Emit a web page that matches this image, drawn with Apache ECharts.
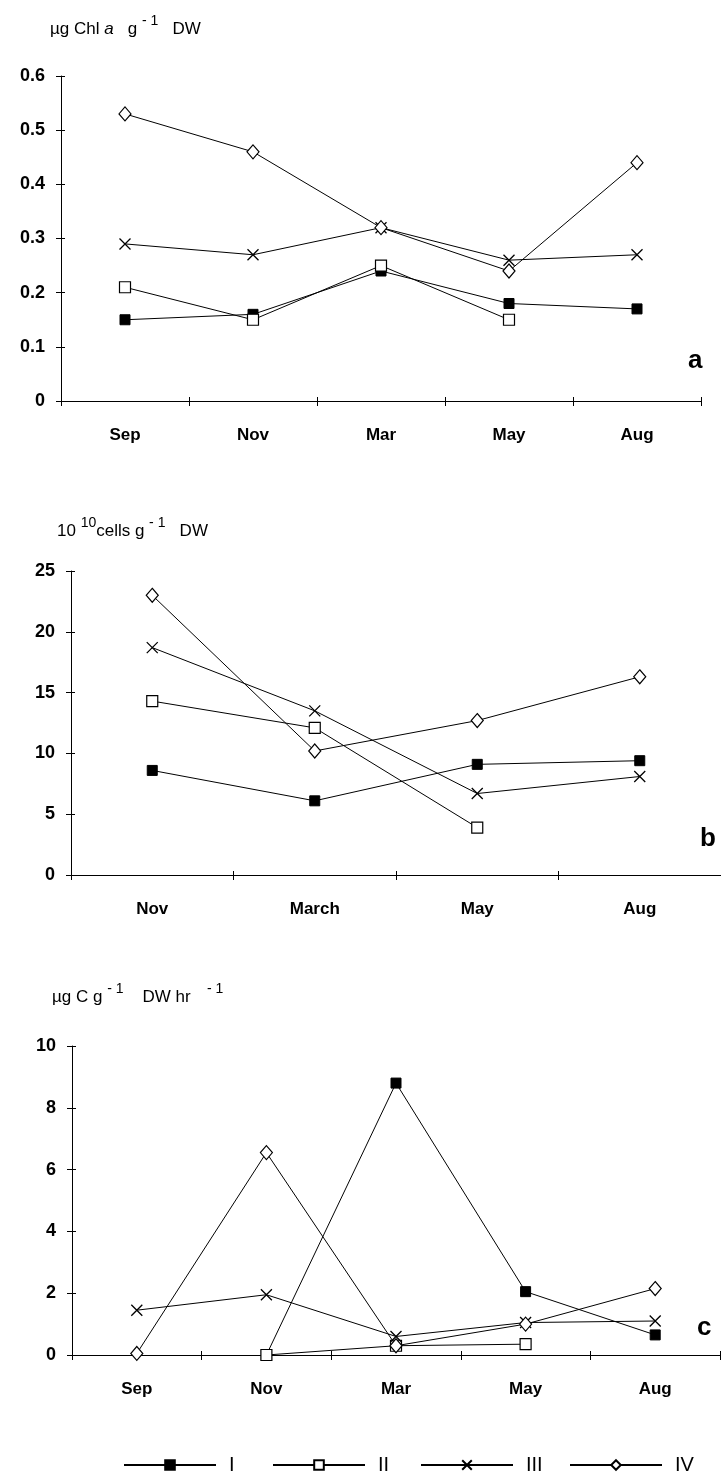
<!DOCTYPE html>
<html>
<head>
<meta charset="utf-8">
<script src="https://cdn.jsdelivr.net/npm/echarts@6/dist/echarts.min.js"></script>
<style>
html,body{margin:0;padding:0;background:#fff;}
#chart{width:721px;height:1477px;}
</style>
</head>
<body>
<div id="chart"></div>
<script>
// ---- data ----
const catsA = ['Sep', 'Nov', 'Mar', 'May', 'Aug'];
const catsB = ['Nov', 'March', 'May', 'Aug'];
const catsC = ['Sep', 'Nov', 'Mar', 'May', 'Aug'];
const seriesNames = ['I', 'II', 'III', 'IV'];

// panel a: µg Chl a g-1 DW
const aI   = [0.15, 0.16, 0.24, 0.18, 0.17];
const aII  = [0.21, 0.15, 0.25, 0.15, null];
const aIII = [0.29, 0.27, 0.32, 0.26, 0.27];
const aIV  = [0.53, 0.46, 0.32, 0.24, 0.44];

// panel b: 10^10 cells g-1 DW
const bI   = [8.6, 6.1, 9.1, 9.4];
const bII  = [14.3, 12.1, 3.9, null];
const bIII = [18.7, 13.5, 6.7, 8.1];
const bIV  = [23.0, 10.2, 12.7, 16.3];

// panel c: µg C g-1 DW hr-1
const cI   = [null, 0.0, 8.8, 2.05, 0.65];
const cII  = [null, 0.0, 0.3, 0.35, null];
const cIII = [1.45, 1.95, 0.6, 1.05, 1.1];
const cIV  = [0.05, 6.55, 0.3, 1.0, 2.15];

// y-axis scales
const yA = {min: 0, max: 0.6, interval: 0.1};
const yB = {min: 0, max: 25, interval: 5};
const yC = {min: 0, max: 10, interval: 2};

// ---- styles ----
const BLACK = '#000';
const FONT = "'Liberation Sans', Arial, sans-serif";
const CROSS = 'path://M0,0L10,10M10,0L0,10';

const styleOf = {
  'I':   {symbol: 'rect', symbolSize: 10, itemStyle: {color: BLACK, borderColor: BLACK, borderWidth: 1}},
  'II':  {symbol: 'rect', symbolSize: 11, itemStyle: {color: '#fff', borderColor: BLACK, borderWidth: 1.2}},
  'III': {symbol: CROSS, symbolSize: 11, itemStyle: {color: 'rgba(0,0,0,0)', borderColor: BLACK, borderWidth: 1.3}},
  'IV':  {symbol: 'diamond', symbolSize: [12, 14], itemStyle: {color: '#fff', borderColor: BLACK, borderWidth: 1.2}}
};

const grids = [
  {left: 61, top: 76, width: 640, height: 325},
  {left: 71, top: 571, width: 650, height: 304},
  {left: 72, top: 1046, width: 648, height: 309}
];

const xCats = [catsA, catsB, catsC];
const yScales = [yA, yB, yC];
const panelData = [
  [aI, aII, aIII, aIV],
  [bI, bII, bIII, bIV],
  [cI, cII, cIII, cIV]
];

const xAxes = [], yAxes = [], series = [];
grids.forEach((g, gi) => {
  xAxes.push({
    gridIndex: gi, type: 'category', data: xCats[gi], position: 'bottom', boundaryGap: true,
    axisLine: {show: true, lineStyle: {color: BLACK, width: 1}},
    axisTick: {show: true, length: 5, lineStyle: {color: BLACK}},
    axisLabel: {color: BLACK, fontFamily: FONT, fontWeight: 'bold', fontSize: 17, margin: 26},
    splitLine: {show: false}
  });
  xAxes.push({
    gridIndex: gi, type: 'category', data: xCats[gi], position: 'bottom', boundaryGap: true,
    axisLine: {show: false},
    axisTick: {show: true, inside: true, length: 4, lineStyle: {color: BLACK}},
    axisLabel: {show: false}, splitLine: {show: false}
  });
  const ys = yScales[gi];
  yAxes.push({
    gridIndex: gi, type: 'value', position: 'left', min: ys.min, max: ys.max, interval: ys.interval,
    axisLine: {show: true, lineStyle: {color: BLACK, width: 1}},
    axisTick: {show: true, length: 5, lineStyle: {color: BLACK}},
    axisLabel: {color: BLACK, fontFamily: FONT, fontWeight: 'bold', fontSize: 18, margin: 16,
      formatter: v => (gi === 0 ? (v === 0 ? '0' : v.toFixed(1)) : String(v))},
    splitLine: {show: false}
  });
  yAxes.push({
    gridIndex: gi, type: 'value', position: 'left', min: ys.min, max: ys.max, interval: ys.interval,
    axisLine: {show: false},
    axisTick: {show: true, inside: true, length: 4, lineStyle: {color: BLACK}},
    axisLabel: {show: false}, splitLine: {show: false}
  });
  seriesNames.forEach((nm, si) => {
    const st = styleOf[nm];
    series.push({
      name: nm, type: 'line', xAxisIndex: gi * 2, yAxisIndex: gi * 2,
      data: panelData[gi][si],
      symbol: st.symbol, symbolSize: st.symbolSize, showAllSymbol: true,
      itemStyle: st.itemStyle,
      lineStyle: {color: BLACK, width: 1},
      emphasis: {disabled: true},
      clip: false,
      animation: false,
      z: 2 + si
    });
  });
});

const legendLeft = [118, 267, 415, 564];
const legends = seriesNames.map((nm, i) => ({
  data: [nm], left: legendLeft[i], top: 1450, orient: 'horizontal',
  itemWidth: 92, itemHeight: 12, itemGap: 0,
  textStyle: {color: BLACK, fontFamily: FONT, fontSize: 20, padding: [0, 0, 0, 8]},
  selectedMode: false
}));

const titleRich = {
  n: {fontFamily: FONT, fontSize: 17, color: BLACK, lineHeight: 24, verticalAlign: 'bottom'},
  i: {fontFamily: FONT, fontSize: 17, fontStyle: 'italic', color: BLACK, lineHeight: 24, verticalAlign: 'bottom'},
  s: {fontFamily: FONT, fontSize: 14, color: BLACK, lineHeight: 24, verticalAlign: 'top', padding: [0, 0, 8, 0]}
};

const graphics = [
  {type: 'text', left: 50, top: 14, style: {text: '{n|µg Chl }{i|a}{n|   g }{s|- 1}{n|   DW}', rich: titleRich}},
  {type: 'text', left: 57, top: 516, style: {text: '{n|10 }{s|10}{n|cells g }{s|- 1}{n|   DW}', rich: titleRich}},
  {type: 'text', left: 52, top: 982, style: {text: '{n|µg C g }{s|- 1}{n|    DW hr }{s|   - 1}', rich: titleRich}},
  {type: 'text', left: 688, top: 348, style: {text: 'a', fontFamily: FONT, fontWeight: 'bold', fontSize: 26, fill: BLACK}},
  {type: 'text', left: 700, top: 826, style: {text: 'b', fontFamily: FONT, fontWeight: 'bold', fontSize: 26, fill: BLACK}},
  {type: 'text', left: 697, top: 1315, style: {text: 'c', fontFamily: FONT, fontWeight: 'bold', fontSize: 26, fill: BLACK}}
];

const chart = echarts.init(document.getElementById('chart'), null, {renderer: 'canvas'});
chart.setOption({
  backgroundColor: '#fff',
  animation: false,
  grid: grids,
  xAxis: xAxes,
  yAxis: yAxes,
  legend: legends,
  series: series,
  graphic: graphics
});
</script>
</body>
</html>
